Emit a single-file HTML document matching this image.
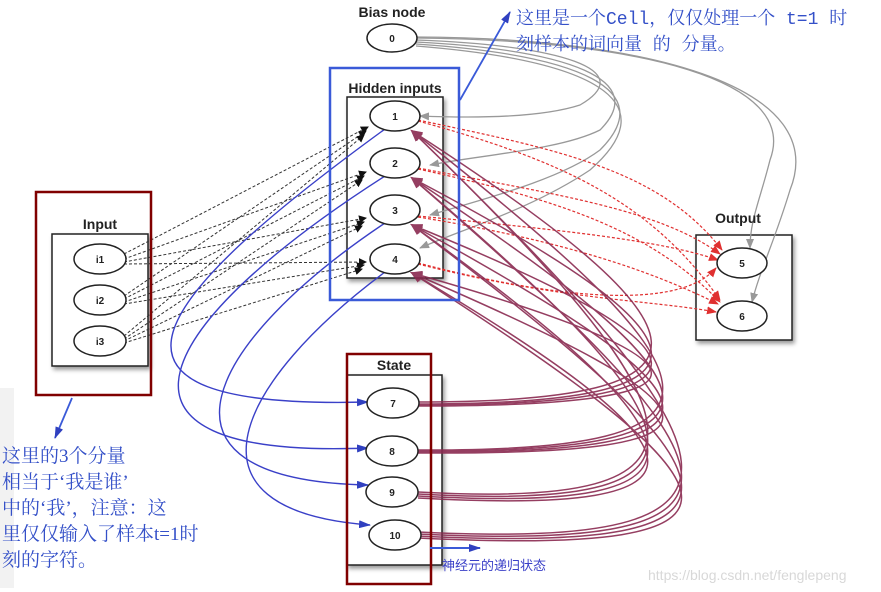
<!DOCTYPE html>
<html><head><meta charset="utf-8"><style>
body{margin:0;background:#fff;width:881px;height:592px;overflow:hidden}
svg{display:block}
.lbl{font-family:"Liberation Sans",sans-serif;font-weight:bold;font-size:14px;fill:#222}
.n{font-family:"Liberation Sans",sans-serif;font-size:10px;fill:#222;font-weight:bold}
.cn{font-family:"Liberation Mono","Noto Serif CJK SC",serif;fill:#3450c8}
.cs{font-family:"Liberation Serif","Noto Serif CJK SC",serif;fill:#3450c8}
</style></head><body>
<svg width="881" height="592" viewBox="0 0 881 592" xmlns="http://www.w3.org/2000/svg">
<defs>
<marker id="ab" markerWidth="8" markerHeight="8" refX="7" refY="4" orient="auto" markerUnits="userSpaceOnUse"><path d="M0,0L8,4L0,8z" fill="#111"/></marker>
<marker id="am" markerWidth="12" markerHeight="10" refX="10" refY="5" orient="auto" markerUnits="userSpaceOnUse"><path d="M0,0L12,5L0,10z" fill="#8a2a50"/></marker>
<marker id="ar" markerWidth="10" markerHeight="8" refX="9" refY="4" orient="auto" markerUnits="userSpaceOnUse"><path d="M0,0L10,4L0,8z" fill="#e03030"/></marker>
<marker id="ag" markerWidth="10" markerHeight="8" refX="9" refY="4" orient="auto" markerUnits="userSpaceOnUse"><path d="M0,0L10,4L0,8z" fill="#999"/></marker>
<marker id="abl" markerWidth="12" markerHeight="8" refX="11" refY="4" orient="auto" markerUnits="userSpaceOnUse"><path d="M0,0L12,4L0,8z" fill="#3040c0"/></marker>
<filter id="sh"><feDropShadow dx="2" dy="3" stdDeviation="2" flood-opacity="0.4"/></filter>
</defs>
<rect x="0" y="388" width="14" height="200" fill="#f2f2f2"/>
<rect x="347" y="97" width="96" height="181" fill="#fff" stroke="#222" stroke-width="1.5" filter="url(#sh)"/>
<rect x="52" y="234" width="96" height="132" fill="#fff" stroke="#222" stroke-width="1.5" filter="url(#sh)"/>
<rect x="696" y="235" width="96" height="105" fill="#fff" stroke="#222" stroke-width="1.5" filter="url(#sh)"/>
<rect x="347" y="375" width="95" height="190" fill="#fff" stroke="#222" stroke-width="1.5" filter="url(#sh)"/>
<g fill="none" stroke="#999" stroke-width="1.3">
<path d="M416,40 C560,45 640,70 580,105 C540,118 470,118 420,116" marker-end="url(#ag)"/>
<path d="M416,42 C570,50 650,80 600,130 C560,150 480,155 430,165" marker-end="url(#ag)"/>
<path d="M416,44 C580,55 660,90 600,150 C560,180 480,200 430,215" marker-end="url(#ag)"/>
<path d="M416,46 C590,60 670,100 590,170 C530,210 460,230 420,248" marker-end="url(#ag)"/>
<path d="M416,38 C640,40 800,80 770,160 C760,200 750,220 750,248" marker-end="url(#ag)"/>
<path d="M416,37 C660,38 830,90 790,190 C775,240 760,270 752,302" marker-end="url(#ag)"/>
</g>
<g stroke="#333" stroke-width="1" stroke-dasharray="3,2" marker-end="url(#ab)">
<line x1="124" y1="254" x2="368" y2="127"/><line x1="124" y1="259" x2="366" y2="172"/><line x1="124" y1="262" x2="366" y2="218"/><line x1="124" y1="264" x2="366" y2="262"/>
<line x1="124" y1="296" x2="366" y2="131"/><line x1="124" y1="299" x2="364" y2="176"/><line x1="124" y1="302" x2="364" y2="222"/><line x1="124" y1="304" x2="364" y2="265"/>
<line x1="124" y1="336" x2="364" y2="135"/><line x1="124" y1="339" x2="362" y2="180"/><line x1="124" y1="341" x2="362" y2="226"/><line x1="124" y1="343" x2="362" y2="269"/>
</g>
<g fill="none" stroke="#e03030" stroke-width="1.2" stroke-dasharray="3,2" marker-end="url(#ar)">
<path d="M418,120 C560,150 660,170 722,250"/><path d="M418,121 C560,160 650,200 720,300"/>
<path d="M418,168 C560,195 660,210 720,254"/><path d="M418,169 C560,200 650,230 720,302"/>
<path d="M418,216 C560,230 660,240 718,260"/><path d="M418,217 C560,240 650,270 718,304"/>
<path d="M418,263 C560,300 680,310 716,268"/><path d="M418,264 C560,300 650,300 716,312"/>
</g>
<g fill="none" stroke="#3a40c8" stroke-width="1.4" marker-end="url(#abl)">
<path d="M385,129 C150,300 60,410 368,402"/>
<path d="M385,176 C160,320 70,460 368,448"/>
<path d="M385,223 C210,340 130,480 368,485"/>
<path d="M385,272 C240,380 170,510 370,525"/>
</g>
<g fill="none" stroke="#8a2a50" stroke-width="1.5" marker-end="url(#am)" opacity="0.9">
<path d="M418,402 C740,402 720,330 412,131"/><path d="M418,404 C740,404 720,340 412,178"/><path d="M418,405 C740,405 720,350 412,225"/><path d="M418,406 C740,406 720,360 412,273"/>
<path d="M418,450 C760,452 730,380 412,131"/><path d="M418,451 C760,453 730,390 412,178"/><path d="M418,452 C760,454 730,400 412,225"/><path d="M418,453 C760,455 730,410 412,273"/>
<path d="M418,492 C740,510 710,420 412,131"/><path d="M418,494 C740,512 710,430 412,178"/><path d="M418,496 C740,514 710,440 412,225"/><path d="M418,498 C740,516 710,450 412,273"/>
<path d="M418,532 C790,550 750,460 412,131"/><path d="M418,534 C790,552 750,470 412,178"/><path d="M418,536 C790,554 750,480 412,225"/><path d="M418,538 C790,556 750,490 412,273"/>
</g>
<g fill="#fff" stroke="#222" stroke-width="1.5">
<ellipse cx="392" cy="38" rx="25" ry="14"/>
<ellipse cx="395" cy="116" rx="25" ry="15"/><ellipse cx="395" cy="163" rx="25" ry="15"/><ellipse cx="395" cy="210" rx="25" ry="15"/><ellipse cx="395" cy="259" rx="25" ry="15"/>
<ellipse cx="100" cy="259" rx="26" ry="15"/><ellipse cx="100" cy="300" rx="26" ry="15"/><ellipse cx="100" cy="341" rx="26" ry="15"/>
<ellipse cx="742" cy="263" rx="25" ry="15"/><ellipse cx="742" cy="316" rx="25" ry="15"/>
<ellipse cx="393" cy="403" rx="26" ry="15"/><ellipse cx="392" cy="451" rx="26" ry="15"/><ellipse cx="392" cy="492" rx="26" ry="15"/><ellipse cx="395" cy="535" rx="26" ry="15"/>
</g>
<g class="n" text-anchor="middle">
<text x="392" y="42">0</text><text x="395" y="120">1</text><text x="395" y="167">2</text><text x="395" y="214">3</text><text x="395" y="263">4</text>
<text x="100" y="263">i1</text><text x="100" y="304">i2</text><text x="100" y="345">i3</text>
<text x="742" y="267">5</text><text x="742" y="320">6</text>
<text x="393" y="407">7</text><text x="392" y="455">8</text><text x="392" y="496">9</text><text x="395" y="539">10</text>
</g>
<g class="lbl" text-anchor="middle">
<text x="392" y="17">Bias node</text><text x="395" y="93">Hidden inputs</text><text x="100" y="229">Input</text><text x="738" y="223">Output</text><text x="394" y="370">State</text>
</g>
<rect x="330" y="68" width="129" height="232" fill="none" stroke="#3a5ad8" stroke-width="2.5"/>
<rect x="36" y="192" width="115" height="203" fill="none" stroke="#800000" stroke-width="2.5"/>
<rect x="347" y="354" width="84" height="230" fill="none" stroke="#800000" stroke-width="2.5"/>
<line x1="460" y1="100" x2="510" y2="12" stroke="#3a5ad8" stroke-width="1.8" marker-end="url(#abl)"/>
<line x1="72" y1="398" x2="55" y2="438" stroke="#3a5ad8" stroke-width="1.8" marker-end="url(#abl)"/>
<line x1="430" y1="548" x2="480" y2="548" stroke="#3a5ad8" stroke-width="2" marker-end="url(#abl)"/>
<g class="cn" font-size="18">
<text x="516" y="24">这里是一个Cell，仅仅处理一个 t=1 时</text>
<text x="516" y="50">刻样本的词向量 的 分量。</text>
</g>
<g class="cs" font-size="19">
<text x="2" y="462">这里的3个分量</text>
<text x="2" y="488">相当于‘我是谁’</text>
<text x="2" y="514">中的‘我’，注意：这</text>
<text x="2" y="540">里仅仅输入了样本t=1时</text>
<text x="2" y="566">刻的字符。</text>
</g>
<text x="442" y="570" font-family="'Liberation Sans','Noto Sans CJK SC',sans-serif" font-size="13" fill="#3a40c8">神经元的递归状态</text>
<text x="648" y="580" font-family="'Liberation Sans',sans-serif" font-size="14" fill="#d8d8d8">https://blog.csdn.net/fenglepeng</text>
</svg>
</body></html>
